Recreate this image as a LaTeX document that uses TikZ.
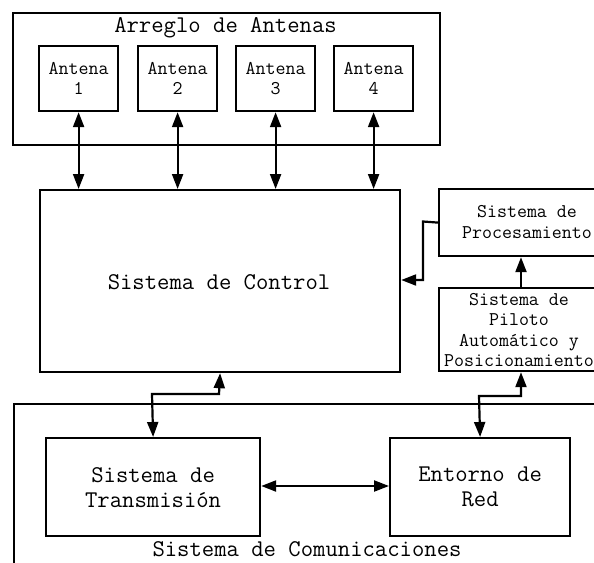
\documentclass[tikz,border=0pt]{standalone}
\usepackage{fontspec}
\usetikzlibrary{arrows.meta}
\tikzset{
  box/.style={draw, line width=2.2pt, inner sep=0pt, anchor=north west},
  big/.style={font=\ttfamily\fontsize{24}{25}\selectfont, align=center, inner sep=0pt},
  small/.style={font=\ttfamily\fontsize{19.4}{20.5}\selectfont, align=center, inner sep=0pt},
  conn/.style={line width=2.2pt, arrows={-Triangle[length=15pt,width=11pt]}},
  biconn/.style={line width=2.2pt, arrows={Triangle[length=15pt,width=11pt]-Triangle[length=15pt,width=11pt]}},
}
\begin{document}
\begin{tikzpicture}[x=1pt,y=-1pt]
\useasboundingbox (0,0) rectangle (594,562);
\clip (0,0) rectangle (594,562);
% antenna array
\node[box, minimum width=427, minimum height=132] (arreglo) at (12,12) {};
\node[big] (tarreglo) at (225.5,28) {Arreglo de Antenas};
\node[box, minimum width=79, minimum height=65] (a1) at (38,45) {};
\node[box, minimum width=79, minimum height=65] (a2) at (137,45) {};
\node[box, minimum width=79, minimum height=65] (a3) at (235,45) {};
\node[box, minimum width=79, minimum height=65] (a4) at (333,45) {};
\node[small] at (a1.center) {Antena\\1};
\node[small] at (a2.center) {Antena\\2};
\node[small] at (a3.center) {Antena\\3};
\node[small] at (a4.center) {Antena\\4};
% control
\node[box, minimum width=360, minimum height=182] (ctrl) at (39,189) {};
\node[big] at (219,282) {Sistema de Control};
% processing
\node[box, minimum width=178, minimum height=67] (proc) at (438,188) {};
\node[small] at (527,222) {Sistema de\\Procesamiento};
\node[box, minimum width=178, minimum height=83] (pil) at (438,287) {};
\node[small] at (519,330) {Sistema de\\Piloto\\Automático y\\Posicionamiento};
% communications
\node[box, minimum width=620, minimum height=200] (com) at (13,403) {};
\node[big] at (307,549) {Sistema de Comunicaciones};
\node[box, minimum width=214, minimum height=98] (tx) at (45,437) {};
\node[big] at (tx.center) {Sistema de\\Transmisión};
\node[box, minimum width=180, minimum height=98] (red) at (389,437) {};
\node[big] at (red.center) {Entorno de\\Red};
% connectors
\foreach \a in {a1,a2,a3,a4}{
  \draw[biconn] (\a.south) -- (\a.south |- ctrl.north);
}
\draw[conn] (proc.west) -- (423,221.5) -- (423,280) -- (ctrl.east |- 0,280);
\draw[conn] (pil.north -| 521,0) -- (proc.south -| 521,0);
\draw[biconn] (tx.north) -- (152,394) -- (219,394) -- (ctrl.south);
\draw[biconn] (red.north) -- (479,396) -- (521,396) -- (pil.south -| 521,0);
\draw[biconn] (tx.east |- 0,486) -- (red.west |- 0,486);
\end{tikzpicture}
\end{document}
